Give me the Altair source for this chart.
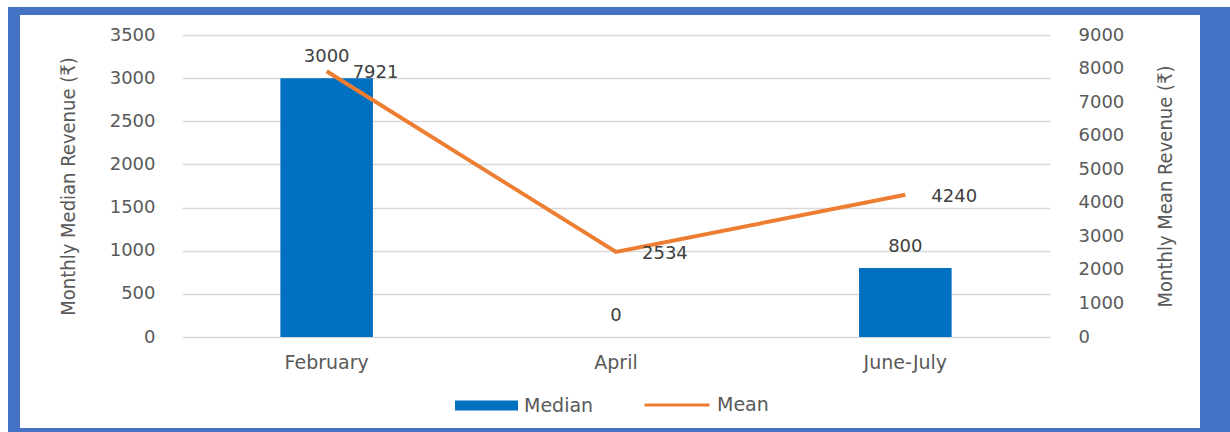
import altair as alt
import pandas as pd

# Survey periods and revenue figures (₹)
periods = ["February", "April", "June-July"]
median_revenue = [3000, 0, 800]
mean_revenue = [7921, 2534, 4240]

median_ticks = [0, 500, 1000, 1500, 2000, 2500, 3000, 3500]
mean_ticks = [0, 1000, 2000, 3000, 4000, 5000, 6000, 7000, 8000, 9000]

df = pd.DataFrame({"period": periods, "median": median_revenue, "mean": mean_revenue})

W, H = 868, 302
BLUE = "#0070C0"
ORANGE = "#ED7D31"
GRID = "#D9D9D9"
TICK = "#595959"
LABEL = "#404040"
FRAME = "#4472C4"
WIDE = "DejaVu Sans"
NARROW = "DejaVu Sans Condensed, Liberation Sans, sans-serif"

x_enc = alt.X(
    "period:N",
    sort=periods,
    scale=alt.Scale(paddingInner=0.68, paddingOuter=0.34),
    axis=alt.Axis(
        title=None, labelAngle=0, labelFont=WIDE, labelFontSize=19,
        labelColor=TICK, labelPadding=16, domain=False, ticks=False,
    ),
)

y_median = alt.Y(
    "median:Q",
    scale=alt.Scale(domain=[0, 3500], nice=False),
    axis=alt.Axis(
        values=median_ticks, format="d", title="Monthly Median Revenue (₹)",
        grid=True, gridColor=GRID, gridWidth=1.5, domain=False, ticks=False,
        labelFont=WIDE, labelFontSize=18, labelColor=TICK, labelPadding=27,
        titleFont=NARROW, titleFontSize=20, titleFontWeight="normal",
        titleColor=TICK, titleAngle=270, titleX=-114, titleY=H / 2,
        titleAlign="center", titleBaseline="middle",
    ),
)

y_mean = alt.Y(
    "mean:Q",
    scale=alt.Scale(domain=[0, 9000], nice=False),
    axis=alt.Axis(
        orient="right", values=mean_ticks, format="d",
        title="Monthly Mean Revenue (₹)", grid=False, domain=False, ticks=False,
        labelFont=WIDE, labelFontSize=18, labelColor=TICK, labelPadding=28,
        titleFont=NARROW, titleFontSize=20, titleFontWeight="normal",
        titleColor=TICK, titleAngle=270, titleX=115, titleY=H / 2,
        titleAlign="center", titleBaseline="middle",
    ),
)

base = alt.Chart(df)

bars = base.transform_calculate(series="'Median'").mark_bar().encode(
    x=x_enc,
    y=y_median,
    fill=alt.Fill(
        "series:N",
        scale=alt.Scale(domain=["Median"], range=[BLUE]),
        legend=alt.Legend(
            orient="none", legendX=273, legendY=339, title=None, padding=0,
            symbolType="M-1,-0.16H1V0.16H-1Z", symbolSize=3969,
            symbolStrokeWidth=0, labelFont=WIDE, labelFontSize=19,
            labelColor=TICK, labelOffset=6,
        ),
    ),
)
bar_text = base.mark_text(
    baseline="bottom", dy=-12, font=WIDE, fontSize=18, color=LABEL
).encode(x=x_enc, y=y_median, text=alt.Text("median:Q", format="d"))

line = base.transform_calculate(series="'Mean'").mark_line(strokeWidth=4).encode(
    x=x_enc,
    y=y_mean,
    stroke=alt.Stroke(
        "series:N",
        scale=alt.Scale(domain=["Mean"], range=[ORANGE]),
        legend=alt.Legend(
            orient="none", legendX=461, legendY=336, title=None, padding=0,
            symbolType="stroke", symbolSize=4225, symbolStrokeWidth=3,
            labelFont=WIDE, labelFontSize=19, labelColor=TICK, labelOffset=6,
        ),
    ),
)
line_text = base.mark_text(
    align="left", baseline="middle", dx=26, dy=2, font=WIDE, fontSize=18, color=LABEL
).encode(x=x_enc, y=y_mean, text=alt.Text("mean:Q", format="d"))

left = alt.layer(bars, bar_text)
right = alt.layer(line, line_text)

# Blue frame around the figure
one = pd.DataFrame({"k": [0]})
def frame_band(x0, x1, y0, y1):
    return alt.Chart(one).mark_rect(color=FRAME).encode(
        x=alt.value(x0), x2=alt.value(x1), y=alt.value(y0), y2=alt.value(y1)
    )

frame = [
    frame_band(-174, -162, -28, 397),
    frame_band(-174, 1048, -28, -20),
    frame_band(1018, 1048, -28, 397),
    frame_band(-174, 1048, 393, 397),
]

chart = (
    alt.layer(left, right, *frame)
    .resolve_scale(y="independent")
    .properties(
        width=W, height=H,
        autosize=alt.AutoSizeParams(type="none"),
        padding={"left": 182, "top": 35, "right": 180, "bottom": 95},
        background="white",
    )
    .configure_view(stroke=None)
)

chart.save("out.html", embed_options={"renderer": "svg", "actions": False})
